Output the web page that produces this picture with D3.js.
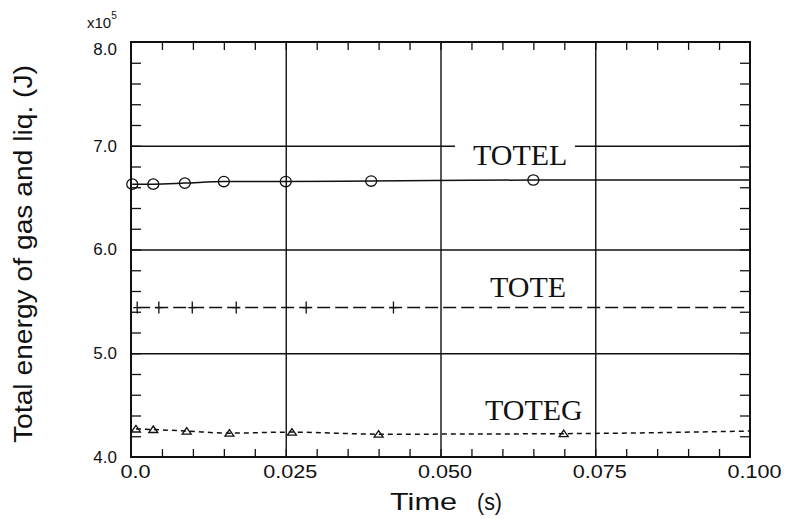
<!DOCTYPE html>
<html>
<head>
<meta charset="utf-8">
<script src="https://cdn.jsdelivr.net/npm/d3@7/dist/d3.min.js"></script>
<style>
  body { margin: 0; background: #fff; }
  svg text { font-family: "Liberation Sans", Arial, sans-serif; fill: #111; }
  .lbl { font-family: "Liberation Serif", "Times New Roman", serif !important; }
</style>
</head>
<body>
<div class="chart"></div>
<script>
// values, energy in units of 1e5 J
const totelTime  = [0.0002, 0.0036, 0.0087, 0.0150, 0.0250, 0.0388, 0.0650, 0.1000];
const totelValue = [6.63, 6.63, 6.64, 6.655, 6.655, 6.66, 6.67, 6.67];

const toteTime  = [0.0010, 0.0045, 0.0099, 0.0170, 0.0283, 0.0424, 0.1000];
const toteValue = [5.44, 5.44, 5.44, 5.44, 5.44, 5.44, 5.44];

const totegTime  = [0.0008, 0.0036, 0.0090, 0.0159, 0.0260, 0.0400, 0.0699, 0.1000];
const totegValue = [4.27, 4.265, 4.25, 4.23, 4.24, 4.22, 4.225, 4.25];

const xTicks = [0, 0.025, 0.05, 0.075, 0.1];
const xTickLabels = ['0.0', '0.025', '0.050', '0.075', '0.100'];
const yTicks = [4, 5, 6, 7, 8];
const yTickLabels = ['4.0', '5.0', '6.0', '7.0', '8.0'];
const xGrid = [0.025, 0.05, 0.075];
const yGrid = [5, 6, 7];

const margin = { top: 42, right: 36, bottom: 62, left: 131 };
const width = 786 - margin.left - margin.right;
const height = 519 - margin.top - margin.bottom;

const svg = d3.select('.chart')
  .append('svg')
  .attr('width', 786)
  .attr('height', 519);

const g = svg.append('g')
  .attr('transform', `translate(${margin.left},${margin.top})`);

const x = d3.scaleLinear().domain([0, 0.1]).range([0, width]);
const y = d3.scaleLinear().domain([4, 8]).range([height, 0]);

// grid lines
g.append('g')
  .attr('transform', `translate(0,${height})`)
  .call(d3.axisBottom(x).tickValues(xGrid).tickSize(-height).tickFormat(''))
  .call(a => a.select('.domain').remove())
  .selectAll('line').attr('stroke', '#111').attr('stroke-width', 1.4);

g.append('g')
  .call(d3.axisLeft(y).tickValues(yGrid).tickSize(-width).tickFormat(''))
  .call(a => a.select('.domain').remove())
  .selectAll('line').attr('stroke', '#111').attr('stroke-width', 1.6);

// minor ticks, all pointing inward
const minorX = d3.range(1, 20).map(i => i * 0.005);
const minorY = d3.range(1, 20).map(i => 4 + i * 0.2);

function minor(sel) {
  sel.select('.domain').remove();
  sel.selectAll('line').attr('stroke', '#111').attr('stroke-width', 1.3);
}
g.append('g').attr('transform', `translate(0,${height})`)
  .call(d3.axisBottom(x).tickValues(minorX).tickSize(-8).tickFormat('')).call(minor);
g.append('g')
  .call(d3.axisTop(x).tickValues(minorX).tickSize(-8).tickFormat('')).call(minor);
g.append('g')
  .call(d3.axisLeft(y).tickValues(minorY).tickSize(-10).tickFormat('')).call(minor);
g.append('g').attr('transform', `translate(${width},0)`)
  .call(d3.axisRight(y).tickValues(minorY).tickSize(-10).tickFormat('')).call(minor);

// tick labels
const xAx = g.append('g')
  .attr('transform', `translate(0,${height})`)
  .call(d3.axisBottom(x).tickValues(xTicks).tickSize(0).tickPadding(8)
    .tickFormat((d, i) => xTickLabels[i]));
xAx.select('.domain').remove();
xAx.selectAll('text')
  .attr('font-size', 18)
  .attr('dx', 4)
  .each(function() {
    const w = this.getComputedTextLength();
    d3.select(this).attr('textLength', w * 1.2).attr('lengthAdjust', 'spacingAndGlyphs');
  });

const yAx = g.append('g')
  .call(d3.axisLeft(y).tickValues(yTicks).tickSize(0).tickPadding(14)
    .tickFormat((d, i) => yTickLabels[i]));
yAx.select('.domain').remove();
yAx.selectAll('text').attr('font-size', 17);
yAx.selectAll('.tick').filter(d => d === 8).select('text').attr('dy', '0.75em');

// frame
g.append('rect')
  .attr('width', width).attr('height', height)
  .attr('fill', 'none').attr('stroke', '#111').attr('stroke-width', 2);

// series
const line = d3.line().curve(d3.curveMonotoneX);

function series(times, values, dash) {
  g.append('path')
    .attr('d', line(times.map((t, i) => [x(t), y(values[i])])))
    .attr('fill', 'none')
    .attr('stroke', '#111')
    .attr('stroke-width', 1.5)
    .attr('stroke-dasharray', dash);
}
series(totelTime, totelValue, null);
series(toteTime, toteValue, '13,5');
series(totegTime, totegValue, '5,4');

// markers (last point of each line is just the end of the curve)
function markers(times, values, shape) {
  g.append('g').selectAll('path')
    .data(times.slice(0, -1))
    .enter()
    .append('path')
    .attr('transform', (d, i) => `translate(${x(d)},${y(values[i])})`)
    .attr('d', shape)
    .attr('fill', 'none')
    .attr('stroke', '#111')
    .attr('stroke-width', 1.3);
}
const circle = 'M5.5,0A5.5,5.2 0 1,1 -5.5,0A5.5,5.2 0 1,1 5.5,0Z';
markers(totelTime, totelValue, circle);
markers(toteTime, toteValue, 'M-4,0H4M0,-6V6');
markers(totegTime, totegValue, 'M-4.5,3L0,-3.5L4.5,3Z');

// series labels; TOTEL knocks out the 7.0 grid line behind it
g.append('rect')
  .attr('x', 455 - margin.left).attr('y', 141 - margin.top)
  .attr('width', 120).attr('height', 27)
  .attr('fill', '#fff');

const labels = [
  { text: 'TOTEL', x: 473, y: 165 },
  { text: 'TOTE', x: 490, y: 297 },
  { text: 'TOTEG', x: 485, y: 420 }
];
svg.selectAll('.lbl')
  .data(labels)
  .enter()
  .append('text')
  .attr('class', 'lbl')
  .attr('x', d => d.x)
  .attr('y', d => d.y)
  .attr('font-size', 30)
  .text(d => d.text);

// exponent
const ex = svg.append('text').attr('x', 87).attr('y', 28).attr('font-size', 15);
ex.append('tspan').text('x10');
ex.append('tspan').attr('font-size', 10).attr('dy', -9).text('5');

// axis titles
svg.append('text')
  .attr('transform', 'translate(32,254) rotate(-90)')
  .attr('text-anchor', 'middle')
  .attr('font-size', 26)
  .attr('textLength', 378)
  .attr('lengthAdjust', 'spacingAndGlyphs')
  .text('Total energy of gas and liq. (J)');

svg.append('text')
  .attr('x', 390).attr('y', 510)
  .attr('font-size', 24)
  .attr('textLength', 67).attr('lengthAdjust', 'spacingAndGlyphs')
  .text('Time');
svg.append('text')
  .attr('x', 477).attr('y', 510)
  .attr('font-size', 24)
  .attr('textLength', 25).attr('lengthAdjust', 'spacingAndGlyphs')
  .text('(s)');
</script>
</body>
</html>
